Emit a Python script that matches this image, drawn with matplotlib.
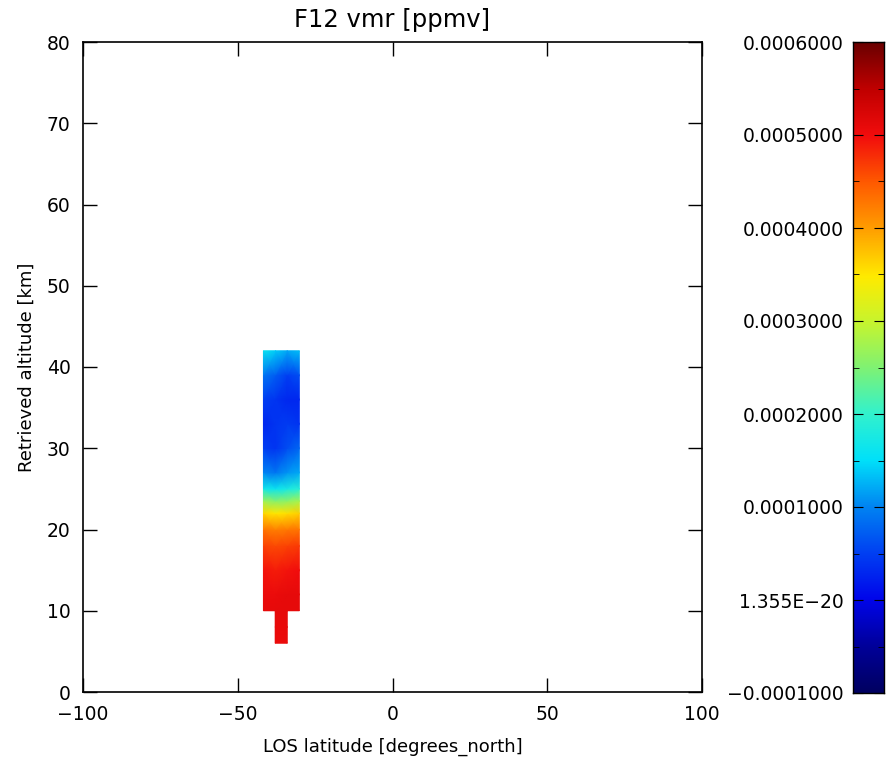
import numpy as np
import matplotlib
matplotlib.use("Agg")
import matplotlib.pyplot as plt
from matplotlib.colors import LinearSegmentedColormap
from matplotlib.ticker import MultipleLocator, FixedLocator

# retrieved F12 field (ppmv), nodes of the wide block
lat_nodes = [-41.7, -37.8, -34.0, -30.1]
alt_nodes = [10, 12, 15, 18, 20, 22, 23.5, 25, 27, 30, 33, 36, 39, 42]
vmr = np.array([
    [0.000510, 0.000510, 0.000510, 0.000510],
    [0.000505, 0.000505, 0.000510, 0.000510],
    [0.000495, 0.000490, 0.000495, 0.000500],
    [0.000465, 0.000460, 0.000465, 0.000470],
    [0.000430, 0.000420, 0.000425, 0.000430],
    [0.000360, 0.000350, 0.000355, 0.000365],
    [0.000270, 0.000255, 0.000260, 0.000275],
    [0.000170, 0.000160, 0.000175, 0.000190],
    [0.000100, 0.000090, 0.000110, 0.000120],
    [0.000050, 0.000040, 0.000060, 0.000080],
    [0.000030, 0.000040, 0.000045, 0.000040],
    [0.000050, 0.000040, 0.000030, 0.000030],
    [0.000090, 0.000070, 0.000050, 0.000060],
    [0.000160, 0.000140, 0.000120, 0.000130],
])

# narrow lower part
lat_low = [-37.9, -34.0]
alt_low = [6, 8, 10]
vmr_low = np.array([
    [0.000505, 0.000505],
    [0.000508, 0.000508],
    [0.000510, 0.000510],
])

vmin, vmax = -0.0001, 0.0006
cb_ticks = [-0.0001, 0.0, 0.0001, 0.0002, 0.0003, 0.0004, 0.0005, 0.0006]
cb_labels = ["\u22120.0001000", "1.355E\u221220", "0.0001000", "0.0002000",
             "0.0003000", "0.0004000", "0.0005000", "0.0006000"]

# IDL-like rainbow table
cmap = LinearSegmentedColormap.from_list("idl_rainbow", [
    (0.00, (0.00, 0.00, 0.38)),
    (0.07, (0.00, 0.00, 0.60)),
    (0.143, (0.00, 0.02, 0.92)),
    (0.214, (0.00, 0.25, 0.95)),
    (0.286, (0.00, 0.52, 0.95)),
    (0.357, (0.00, 0.88, 0.98)),
    (0.43, (0.20, 0.95, 0.80)),
    (0.50, (0.50, 0.95, 0.45)),
    (0.57, (0.78, 0.96, 0.18)),
    (0.64, (1.00, 0.92, 0.00)),
    (0.714, (1.00, 0.62, 0.00)),
    (0.786, (1.00, 0.35, 0.00)),
    (0.857, (0.95, 0.05, 0.05)),
    (0.93, (0.75, 0.00, 0.00)),
    (1.00, (0.42, 0.00, 0.00)),
])

plt.rcParams['font.family'] = ['DejaVu Sans']
plt.rcParams['axes.unicode_minus'] = True
fs = 13

fig = plt.figure(figsize=(8.89, 7.64), dpi=100)
W, H = 889, 764
ax = fig.add_axes([83 / W, 1 - 692 / H, (702 - 83) / W, (692 - 42) / H])
cax = fig.add_axes([853 / W, 1 - 693 / H, (884 - 853) / W, (693 - 42) / H])

LA, AL = np.meshgrid(lat_nodes, alt_nodes)
ax.pcolormesh(LA, AL, vmr, cmap=cmap, vmin=vmin, vmax=vmax, shading='gouraud')
LA2, AL2 = np.meshgrid(lat_low, alt_low)
ax.pcolormesh(LA2, AL2, vmr_low, cmap=cmap, vmin=vmin, vmax=vmax, shading='gouraud')

ax.set_xlim(-100, 100)
ax.set_ylim(0, 80)
ax.xaxis.set_major_locator(MultipleLocator(50))
ax.yaxis.set_major_locator(MultipleLocator(10))
ax.tick_params(direction='in', length=10, width=1, top=True, right=True,
               labelsize=fs + 0.5, pad=9)
for s in ax.spines.values():
    s.set_linewidth(1.2)
ax.set_xlabel("LOS latitude [degrees_north]", fontsize=fs, labelpad=10)
ax.set_ylabel("Retrieved altitude [km]", fontsize=fs, labelpad=8)
ax.set_title("F12 vmr [ppmv]", fontsize=17.5, pad=11)

# colorbar
grad = np.linspace(vmin, vmax, 256).reshape(-1, 1)
cax.imshow(grad, aspect='auto', cmap=cmap, origin='lower',
           extent=[0, 1, vmin, vmax], vmin=vmin, vmax=vmax)
cax.set_xlim(0, 1)
cax.set_ylim(vmin, vmax)
cax.set_xticks([])
cax.yaxis.set_major_locator(FixedLocator(cb_ticks))
cax.set_yticklabels(cb_labels)
cax.yaxis.set_minor_locator(MultipleLocator(0.00005))
cax.tick_params(axis='y', which='major', direction='in', length=7, left=True,
                right=True, labelsize=fs + 0.5, pad=7)
cax.tick_params(axis='y', which='minor', direction='in', length=4, left=True,
                right=True)
for s in cax.spines.values():
    s.set_linewidth(1.0)

fig.savefig("out.png", dpi=100)
plt.close('all')
